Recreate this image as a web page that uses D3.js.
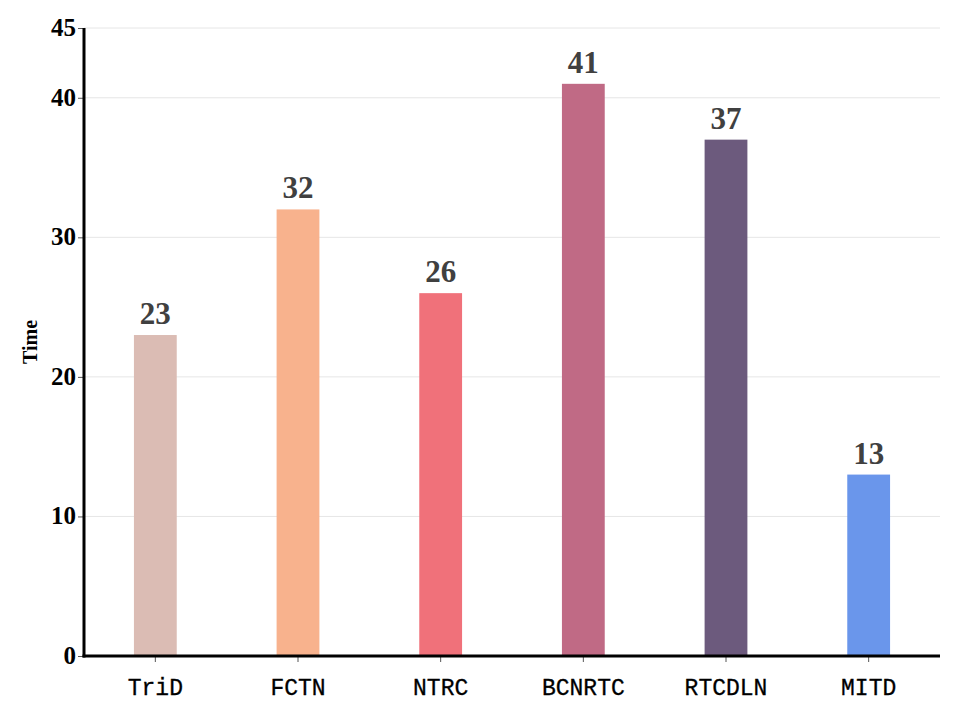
<!DOCTYPE html>
<html>
<head>
<meta charset="utf-8">
<script src="https://cdn.jsdelivr.net/npm/d3@7"></script>
<style>
body { margin: 0; background: #fff; overflow: hidden; }
svg { display: block; }
</style>
</head>
<body>
<svg></svg>
<script>
const methods = ['TriD', 'FCTN', 'NTRC', 'BCNRTC', 'RTCDLN', 'MITD'];
const times = [23, 32, 26, 41, 37, 13];
const colors = ['#dbbcb4', '#f8b28d', '#f0717a', '#c06a85', '#6c5a7d', '#6a96eb'];
const yTicks = [0, 10, 20, 30, 40, 45];

const width = 960;
const height = 720;
const margin = { top: 28, right: 20, bottom: 64, left: 84 };
const innerWidth = width - margin.left - margin.right;
const innerHeight = height - margin.top - margin.bottom;

const svg = d3.select('svg')
	.attr('width', width)
	.attr('height', height);

const g = svg.append('g')
	.attr('transform', `translate(${margin.left}, ${margin.top})`);

const xScale = d3.scaleBand()
	.domain(methods)
	.range([0, innerWidth])
	.paddingInner(0.7)
	.paddingOuter(0.35);

const yScale = d3.scaleLinear()
	.domain([0, 45])
	.range([innerHeight, 0]);

// grid
g.selectAll('.grid')
	.data(yTicks.filter(d => d > 0))
	.enter()
	.append('line')
	.attr('x1', 0)
	.attr('x2', innerWidth)
	.attr('y1', d => yScale(d))
	.attr('y2', d => yScale(d))
	.attr('stroke', '#e6e6e6')
	.attr('stroke-width', 1);

// bars
g.selectAll('rect')
	.data(times)
	.enter()
	.append('rect')
	.attr('x', (d, i) => xScale(methods[i]))
	.attr('y', d => yScale(d))
	.attr('width', xScale.bandwidth())
	.attr('height', d => innerHeight - yScale(d))
	.attr('fill', (d, i) => colors[i]);

// value labels
g.selectAll('.value')
	.data(times)
	.enter()
	.append('text')
	.attr('x', (d, i) => xScale(methods[i]) + xScale.bandwidth() / 2)
	.attr('y', d => yScale(d) - 11)
	.attr('text-anchor', 'middle')
	.style('font-family', '"Liberation Serif", serif')
	.style('font-weight', 'bold')
	.style('font-size', '31px')
	.style('fill', '#404040')
	.text(d => d);

// axes
const yAxis = d3.axisLeft(yScale)
	.tickValues(yTicks)
	.tickSize(6)
	.tickPadding(2);

const yg = g.append('g').call(yAxis);
yg.select('.domain').remove();
yg.selectAll('.tick line').attr('stroke', '#555');
yg.selectAll('.tick text')
	.attr('dy', '0.3em')
	.style('font-family', '"Liberation Serif", serif')
	.style('font-weight', 'bold')
	.style('font-size', '25px')
	.style('fill', '#000');

const xAxis = d3.axisBottom(xScale)
	.tickSize(6)
	.tickPadding(0);

const xg = g.append('g')
	.attr('transform', `translate(0, ${innerHeight})`)
	.call(xAxis);
xg.select('.domain').remove();
xg.selectAll('.tick line').attr('stroke', '#555');
xg.selectAll('.tick text')
	.attr('y', 39)
	.attr('dy', 0)
	.style('font-family', '"Liberation Mono", "DejaVu Sans Mono", monospace')
	.style('font-size', '23px')
	.style('fill', '#000')
	.style('stroke', '#000')
	.style('stroke-width', 0.3);

// axis lines
g.append('line')
	.attr('x1', 0).attr('x2', 0)
	.attr('y1', 0).attr('y2', innerHeight + 1.5)
	.attr('stroke', '#000')
	.attr('stroke-width', 3);

g.append('line')
	.attr('x1', -1.5).attr('x2', innerWidth)
	.attr('y1', innerHeight).attr('y2', innerHeight)
	.attr('stroke', '#000')
	.attr('stroke-width', 3);

// y label
svg.append('text')
	.attr('transform', `translate(37, ${margin.top + innerHeight / 2}) rotate(-90)`)
	.attr('text-anchor', 'middle')
	.style('font-family', '"Liberation Serif", serif')
	.style('font-weight', 'bold')
	.style('font-size', '20px')
	.text('Time');
</script>
</body>
</html>
